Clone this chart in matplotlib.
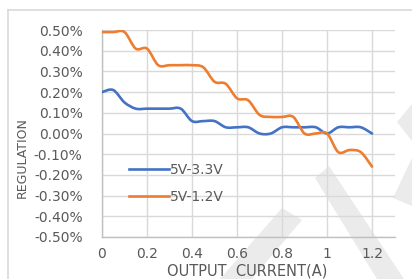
import numpy as np
import matplotlib
matplotlib.use("Agg")
import matplotlib.pyplot as plt
from matplotlib.path import Path
from matplotlib.patches import PathPatch, Polygon
from matplotlib.lines import Line2D

# ---- data ----
current = [0.00, 0.05, 0.10, 0.15, 0.20, 0.25, 0.30, 0.35, 0.40, 0.45, 0.50, 0.55,
           0.60, 0.65, 0.70, 0.75, 0.80, 0.85, 0.90, 0.95, 1.00, 1.05, 1.10, 1.15, 1.20]
reg_3v3 = [0.20, 0.21, 0.15, 0.12, 0.12, 0.12, 0.12, 0.12, 0.06, 0.06, 0.06, 0.03,
           0.03, 0.03, 0.00, 0.00, 0.03, 0.03, 0.03, 0.03, 0.00, 0.03, 0.03, 0.03, 0.00]
reg_1v2 = [0.49, 0.49, 0.49, 0.41, 0.41, 0.33, 0.33, 0.33, 0.33, 0.32, 0.25, 0.24,
           0.17, 0.16, 0.09, 0.08, 0.08, 0.08, 0.00, 0.00, 0.00, -0.09, -0.08, -0.09, -0.16]
series_names = ["5V-3.3V", "5V-1.2V"]
series_colors = ["#4472C4", "#ED7D31"]
x_ticks = [0, 0.2, 0.4, 0.6, 0.8, 1.0, 1.2]
x_tick_labels = ["0", "0.2", "0.4", "0.6", "0.8", "1", "1.2"]
y_ticks = [-0.5, -0.4, -0.3, -0.2, -0.1, 0.0, 0.1, 0.2, 0.3, 0.4, 0.5]

W, H = 412, 279
fig = plt.figure(figsize=(W / 100, H / 100), dpi=100)
fig.patch.set_facecolor("white")

def px(x, y):
    return (x / W, 1 - y / H)

# watermark bands (figure decoration)
wm_color = "#ebebeb"
for poly in [
    [(220, 279), (252, 279), (302, 220), (282, 208)],
    [(315, 178), (329, 166), (404, 279), (377, 279)],
    [(412, 104), (397, 122), (412, 141)],
    [(412, 158), (393, 198), (412, 206)],
]:
    fig.patches.append(Polygon([px(*p) for p in poly], closed=True,
                               transform=fig.transFigure, facecolor=wm_color,
                               edgecolor="none", zorder=-5))

# outer chart border
fig.add_artist(Line2D([8 / W, 1], [1 - 10 / H, 1 - 10 / H], transform=fig.transFigure,
                      color="#d9d9d9", lw=1.2, zorder=-4))
fig.add_artist(Line2D([8 / W, 8 / W], [0, 1 - 10 / H], transform=fig.transFigure,
                      color="#d9d9d9", lw=1.2, zorder=-4))

ax = fig.add_axes([102 / W, 1 - 237 / H, 293 / W, 207 / H])
ax.set_zorder(2)
ax.patch.set_alpha(0)
ax.set_xlim(0, 1.302)
ax.set_ylim(-0.5, 0.5)

def smooth_path(xs, ys):
    pts = np.column_stack([xs, ys])
    n = len(pts)
    verts = [pts[0]]
    codes = [Path.MOVETO]
    for i in range(n - 1):
        p0 = pts[i - 1] if i > 0 else pts[i]
        p1 = pts[i]
        p2 = pts[i + 1]
        p3 = pts[i + 2] if i + 2 < n else pts[i + 1]
        c1 = p1 + (p2 - p0) / 6.0
        c2 = p2 - (p3 - p1) / 6.0
        verts += [c1, c2, p2]
        codes += [Path.CURVE4] * 3
    return Path(verts, codes)

for ys, color in zip([reg_3v3, reg_1v2], series_colors):
    patch = PathPatch(smooth_path(current, ys), facecolor="none", edgecolor=color,
                      lw=1.9, transform=ax.transData, zorder=3, capstyle="round",
                      joinstyle="round")
    ax.add_patch(patch)

handles = [Line2D([], [], color=c, lw=1.9) for c in series_colors]

grid_c = "#d9d9d9"
ax.set_xticks(x_ticks)
ax.set_xticklabels(x_tick_labels)
ax.set_yticks(y_ticks)
ax.set_yticklabels([f"{v:.2f}%" for v in y_ticks])
ax.grid(True, color=grid_c, lw=1.0)
ax.set_axisbelow(True)
for s in ["top", "right"]:
    ax.spines[s].set_visible(False)
for s in ["left", "bottom"]:
    ax.spines[s].set_color("#bfbfbf")
    ax.spines[s].set_linewidth(1.0)
txt_c = "#595959"
ax.tick_params(axis="both", length=0, colors=txt_c, labelsize=10)
ax.tick_params(axis="y", pad=14)
ax.tick_params(axis="x", pad=7)

fig.text(22 / W, 1 - 158 / H, "REGULATION", rotation=90, ha="center", va="center",
         color=txt_c, fontsize=9)
fig.text(247 / W, 1 - 271 / H, "OUTPUT  CURRENT(A)", ha="center", va="center",
         color=txt_c, fontsize=10.5)

fig.legend(handles, series_names, loc="upper left",
           bbox_to_anchor=(129 / W, 1 - 163 / H), frameon=False, fontsize=10,
           handlelength=2.9, handletextpad=0.05, labelspacing=0.95,
           borderpad=0, borderaxespad=0, labelcolor=txt_c)

fig.savefig("out.png", dpi=100)
